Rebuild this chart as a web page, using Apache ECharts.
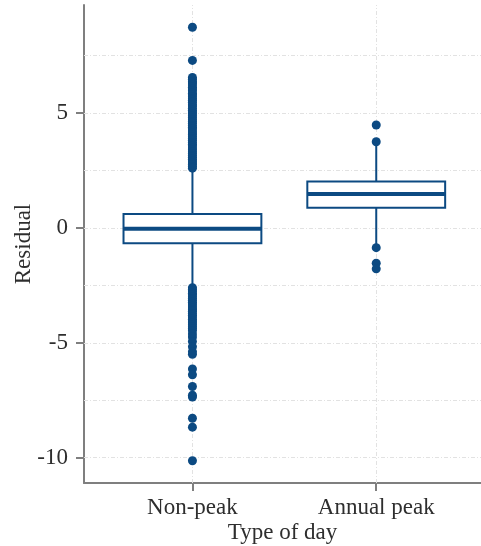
<!DOCTYPE html>
<html>
<head>
<meta charset="utf-8">
<script src="https://cdn.jsdelivr.net/npm/echarts@6/dist/echarts.min.js"></script>
<style>
  html, body { margin: 0; padding: 0; background: #fff; }
  #chart { width: 481px; height: 546px; }
</style>
</head>
<body>
<div id="chart"></div>
<script>
// categories and box statistics
const categories = ["Non-peak", "Annual peak"];
const lowerWhisker = [-2.55, -0.8];
const lowerQuartile = [-0.67, 0.88];
const medians = [-0.04, 1.48];
const upperQuartile = [0.61, 2.02];
const upperWhisker = [2.5, 3.7];

// outside values
const outliersNonPeak = [
  8.73, 7.29, 6.55, 6.47, 6.36, 6.31, 6.22, 6.12, 6.05, 5.97, 5.86, 5.8, 5.71,
  5.62, 5.55, 5.47, 5.36, 5.3, 5.21, 5.12, 5.04, 4.97, 4.88, 4.8, 4.71, 4.63,
  4.55, 4.46, 4.38, 4.31, 4.22, 4.13, 4.06, 3.97, 3.89, 3.81, 3.72, 3.64, 3.57,
  3.48, 3.4, 3.31, 3.24, 3.15, 3.07, 2.99, 2.91, 2.83, 2.76, 2.67, 2.6,
  -2.6, -2.68, -2.75, -2.84, -2.91, -3.0, -3.07, -3.15, -3.24, -3.31, -3.4,
  -3.48, -3.56, -3.63, -3.72, -3.8, -3.88, -3.97, -4.05, -4.13, -4.21, -4.3,
  -4.38, -4.47, -4.62, -4.75, -4.94, -5.17, -5.39, -5.5, -6.14, -6.39, -6.9,
  -7.28, -7.36, -8.28, -8.67, -10.13
];
const outliersAnnualPeak = [4.48, 3.75, -0.86, -1.54, -1.78];

// axis ticks and reference grid
const yTicks = [-10, -5, 0, 5];
const yGrid = [-10, -7.5, -5, -2.5, 0, 2.5, 5, 7.5];
const xTicks = [1, 2];

const navy = "#0c4a82";
const axisGray = "#7f7f7f";
const textColor = "#2e2e2e";
const fontFamily = "'Liberation Serif', 'DejaVu Serif', serif";

const chart = echarts.init(document.getElementById("chart"));

const boxData = categories.map((c, i) => [
  i + 1, lowerWhisker[i], lowerQuartile[i], medians[i], upperQuartile[i], upperWhisker[i]
]);

const scatterData = []
  .concat(outliersNonPeak.map((v) => [1, v]))
  .concat(outliersAnnualPeak.map((v) => [2, v]));

const renderBox = (params, api) => {
  const x = api.value(0);
  const half = 0.375;
  const lo = api.coord([x, api.value(1)]);
  const q1 = api.coord([x, api.value(2)]);
  const md = api.coord([x, api.value(3)]);
  const q3 = api.coord([x, api.value(4)]);
  const hi = api.coord([x, api.value(5)]);
  const left = api.coord([x - half, api.value(3)])[0];
  const right = api.coord([x + half, api.value(3)])[0];
  const stroke = { stroke: navy, lineWidth: 2 };
  return {
    type: "group",
    children: [
      { type: "line", shape: { x1: q3[0], y1: q3[1], x2: hi[0], y2: hi[1] }, style: stroke },
      { type: "line", shape: { x1: q1[0], y1: q1[1], x2: lo[0], y2: lo[1] }, style: stroke },
      {
        type: "rect",
        shape: { x: left, y: q3[1], width: right - left, height: q1[1] - q3[1] },
        style: { fill: "#fff", stroke: navy, lineWidth: 2 },
      },
      {
        type: "line",
        shape: { x1: left, y1: md[1], x2: right, y2: md[1] },
        style: { stroke: navy, lineWidth: 4 },
      },
    ],
  };
};

const gridLine = { color: "#e2e2e2", width: 1, type: [4, 2, 1, 2] };

chart.setOption({
  animation: false,
  textStyle: { fontFamily: fontFamily },
  grid: { left: 84, right: 0, top: 5, bottom: 63, containLabel: false, outerBoundsMode: "none" },
  xAxis: {
    type: "value",
    min: 0.41,
    max: 2.57,
    name: "Type of day",
    nameLocation: "middle",
    nameGap: 38,
    nameMoveOverlap: false,
    nameTextStyle: { fontSize: 23, color: textColor, fontFamily: fontFamily },
    axisLine: { show: true, onZero: false, lineStyle: { color: axisGray, width: 2 } },
    axisTick: { show: true, customValues: xTicks, length: 8, lineStyle: { color: axisGray, width: 2 } },
    axisLabel: {
      customValues: xTicks,
      formatter: (v) => categories[Math.round(v) - 1],
      fontSize: 23,
      color: textColor,
      margin: 13,
      fontFamily: fontFamily,
    },
    splitLine: { show: false },
  },
  yAxis: {
    type: "value",
    min: -11.1,
    max: 9.7,
    name: "Residual",
    nameLocation: "middle",
    nameGap: 49,
    nameMoveOverlap: false,
    nameTextStyle: { fontSize: 23, color: textColor, fontFamily: fontFamily },
    axisLine: { show: true, onZero: false, lineStyle: { color: axisGray, width: 2 } },
    axisTick: { show: true, customValues: yTicks, length: 8, lineStyle: { color: axisGray, width: 2 } },
    axisLabel: {
      customValues: yTicks,
      fontSize: 23,
      color: textColor,
      margin: 16,
      fontFamily: fontFamily,
    },
    splitLine: { show: false },
  },
  series: [
    {
      type: "scatter",
      data: [],
      z: 1,
      silent: true,
      markLine: {
        silent: true,
        z: 1,
        symbol: "none",
        label: { show: false },
        lineStyle: gridLine,
        data: yGrid.map((v) => ({ yAxis: v })).concat(xTicks.map((v) => ({ xAxis: v }))),
      },
    },
    {
      type: "custom",
      z: 3,
      renderItem: renderBox,
      data: boxData,
    },
    {
      type: "scatter",
      z: 4,
      symbol: "circle",
      symbolSize: 9,
      itemStyle: { color: navy, opacity: 1, borderWidth: 0 },
      emphasis: { disabled: true },
      data: scatterData,
    },
  ],
});
</script>
</body>
</html>
